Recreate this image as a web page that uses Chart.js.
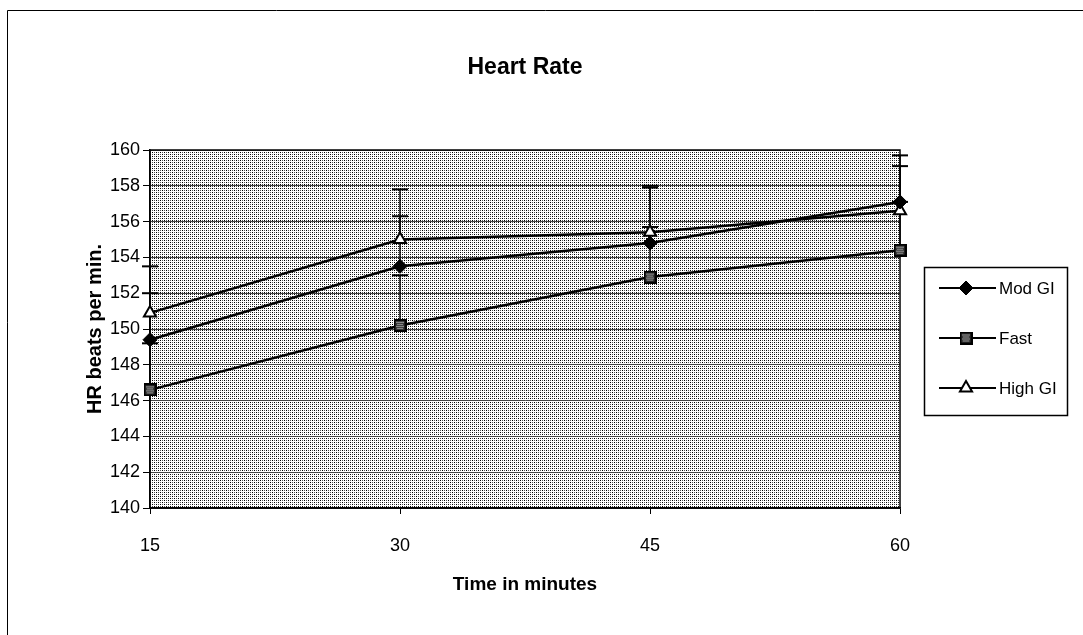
<!DOCTYPE html>
<html>
<head>
<meta charset="utf-8">
<script src="https://cdn.jsdelivr.net/npm/chart.js@4.4.1/dist/chart.umd.min.js"></script>
<style>
  html, body { margin: 0; padding: 0; background: #fff; }
  #wrap { width: 1083px; height: 635px; }
</style>
</head>
<body>
<div id="wrap"><canvas id="graficoHR" width="1083" height="635"></canvas></div>
<script>
// dados
const tempos = [15, 30, 45, 60];
const ticksY = [140, 142, 144, 146, 148, 150, 152, 154, 156, 158, 160];
const nomes = ["Mod GI", "Fast", "High GI"];
const modGI = [149.4, 153.5, 154.8, 157.1];
const fast = [146.6, 150.2, 152.9, 154.4];
const highGI = [150.9, 155.0, 155.4, 156.6];
const erroModGI = [2.6, 2.8, 3.1, 2.0];
const erroFast = [2.6, 2.8, 2.8, 2.7];
const erroHighGI = [2.6, 2.8, 2.6, 3.1];

const fonte = "'Liberation Sans', Arial, sans-serif";
const canvas = document.getElementById("graficoHR");

function pontos(valores) {
  return valores.map((v, i) => ({ x: tempos[i], y: v }));
}

// fundo pontilhado da area do grafico
function criarPadrao(ctx) {
  const c = document.createElement("canvas");
  c.width = 4;
  c.height = 4;
  const g = c.getContext("2d");
  g.fillStyle = "#fff";
  g.fillRect(0, 0, 4, 4);
  g.fillStyle = "#000";
  g.fillRect(0, 0, 1, 1);
  g.fillRect(2, 2, 1, 1);
  g.fillStyle = "#555";
  g.fillRect(2, 0, 1, 1);
  g.fillRect(0, 2, 1, 1);
  return ctx.createPattern(c, "repeat");
}

// marcador quadrado xadrez da serie Fast
function criarQuadrado() {
  const c = document.createElement("canvas");
  c.width = 13;
  c.height = 13;
  const g = c.getContext("2d");
  g.fillStyle = "#000";
  g.fillRect(0, 0, 13, 13);
  g.fillStyle = "#3a3a3a";
  g.fillRect(2, 2, 9, 9);
  g.fillStyle = "#ddd";
  for (let y = 3; y <= 9; y += 2) {
    for (let x = 3 + ((y - 3) % 4 === 0 ? 0 : 1); x <= 9; x += 2) {
      g.fillRect(x, y, 1, 1);
    }
  }
  return c;
}

const quadrado = criarQuadrado();

const erros = [erroModGI, erroFast, erroHighGI];

const pluginFundo = {
  id: "fundo",
  beforeDraw(chart) {
    const { ctx, chartArea: a } = chart;
    ctx.save();
    ctx.fillStyle = "#fff";
    ctx.fillRect(0, 0, chart.width, chart.height);
    ctx.fillStyle = criarPadrao(ctx);
    ctx.fillRect(a.left, a.top, a.right - a.left, a.bottom - a.top);
    // moldura externa
    ctx.strokeStyle = "#000";
    ctx.lineWidth = 1;
    ctx.beginPath();
    ctx.moveTo(7.5, chart.height);
    ctx.lineTo(7.5, 10.5);
    ctx.lineTo(chart.width, 10.5);
    ctx.stroke();
    ctx.restore();
  },
  beforeDatasetsDraw(chart) {
    const { ctx, chartArea: a, scales } = chart;
    ctx.save();
    ctx.strokeStyle = "#000";
    ctx.lineWidth = 1.5;
    ctx.strokeRect(a.left, a.top, a.right - a.left, a.bottom - a.top);
    // barras de erro (so para cima)
    chart.data.datasets.forEach((ds, i) => {
      ds.data.forEach((p, j) => {
        const x = scales.x.getPixelForValue(p.x);
        const y0 = scales.y.getPixelForValue(p.y);
        const y1 = scales.y.getPixelForValue(p.y + erros[i][j]);
        ctx.lineWidth = 1.5;
        ctx.beginPath();
        ctx.moveTo(x, y0);
        ctx.lineTo(x, y1);
        ctx.stroke();
        ctx.lineWidth = 2;
        ctx.beginPath();
        ctx.moveTo(x - 8, y1);
        ctx.lineTo(x + 8, y1);
        ctx.stroke();
      });
    });
    ctx.restore();
  },
  afterDraw(chart) {
    const { ctx } = chart;
    ctx.save();
    ctx.fillStyle = "#fff";
    ctx.fillRect(924, 267, 143, 148);
    ctx.strokeStyle = "#000";
    ctx.lineWidth = 1.5;
    ctx.strokeRect(924.5, 267.5, 143, 148);
    ctx.font = "17px " + fonte;
    ctx.textBaseline = "middle";
    chart.data.datasets.forEach((ds, i) => {
      const y = 288 + i * 50;
      ctx.strokeStyle = "#000";
      ctx.lineWidth = 2;
      ctx.beginPath();
      ctx.moveTo(939, y);
      ctx.lineTo(996, y);
      ctx.stroke();
      ctx.fillStyle = ds.pointBackgroundColor;
      ctx.strokeStyle = ds.pointBorderColor;
      ctx.lineWidth = ds.pointBorderWidth;
      Chart.helpers.drawPoint(ctx, {
        pointStyle: ds.pointStyle,
        radius: ds.pointRadius,
        rotation: 0,
        borderWidth: ds.pointBorderWidth,
      }, 966, y);
      ctx.fillStyle = "#000";
      ctx.fillText(ds.label, 999, y + 1);
    });
    ctx.restore();
  },
};

const grafico = new Chart(canvas, {
  type: "line",
  data: {
    datasets: [
      {
        label: nomes[0],
        data: pontos(modGI),
        borderColor: "#000",
        borderWidth: 2.5,
        pointStyle: "rectRot",
        pointRadius: 7,
        pointBackgroundColor: "#000",
        pointBorderColor: "#000",
        pointBorderWidth: 1,
        clip: false,
      },
      {
        label: nomes[1],
        data: pontos(fast),
        borderColor: "#000",
        borderWidth: 2.5,
        pointStyle: quadrado,
        pointRadius: 7,
        pointBackgroundColor: "#000",
        pointBorderColor: "#000",
        pointBorderWidth: 1,
        clip: false,
      },
      {
        label: nomes[2],
        data: pontos(highGI),
        borderColor: "#000",
        borderWidth: 2.5,
        pointStyle: "triangle",
        pointRadius: 7,
        pointBackgroundColor: "#fff",
        pointBorderColor: "#000",
        pointBorderWidth: 2,
        clip: false,
      },
    ],
  },
  options: {
    responsive: false,
    animation: false,
    layout: { padding: { left: 0, right: 183, top: 0, bottom: 0 } },
    plugins: {
      legend: { display: false },
      tooltip: { enabled: false },
      title: {
        display: true,
        text: "Heart Rate",
        fullSize: false,
        color: "#000",
        font: { family: fonte, size: 23, weight: "bold", lineHeight: 1 },
        padding: { top: 56, bottom: 71 },
      },
    },
    scales: {
      x: {
        type: "linear",
        min: 15,
        max: 60,
        afterBuildTicks: (s) => {
          s.ticks = tempos.map((v) => ({ value: v }));
        },
        afterFit: (s) => {
          s.height = 127;
        },
        grid: { drawOnChartArea: false, tickLength: 6, tickColor: "#000", tickWidth: 1 },
        border: { color: "#000", width: 1.5 },
        ticks: { color: "#000", padding: 21, maxRotation: 0, font: { family: fonte, size: 18 } },
        title: {
          display: true,
          text: "Time in minutes",
          color: "#000",
          font: { family: fonte, size: 19, weight: "bold" },
          padding: { top: 0, bottom: 39 },
        },
      },
      y: {
        min: 140,
        max: 160,
        afterBuildTicks: (s) => {
          s.ticks = ticksY.map((v) => ({ value: v }));
        },
        afterFit: (s) => {
          s.width = 150;
        },
        grid: { color: "#444", lineWidth: 1, tickLength: 7, tickColor: "#000" },
        border: { color: "#000", width: 1.5 },
        ticks: { color: "#000", padding: 3, font: { family: fonte, size: 18 } },
        title: {
          display: true,
          text: "HR beats per min.",
          color: "#000",
          font: { family: fonte, size: 20, weight: "bold" },
          padding: { top: 83, bottom: 0 },
        },
      },
    },
  },
  plugins: [pluginFundo],
});
</script>
</body>
</html>
